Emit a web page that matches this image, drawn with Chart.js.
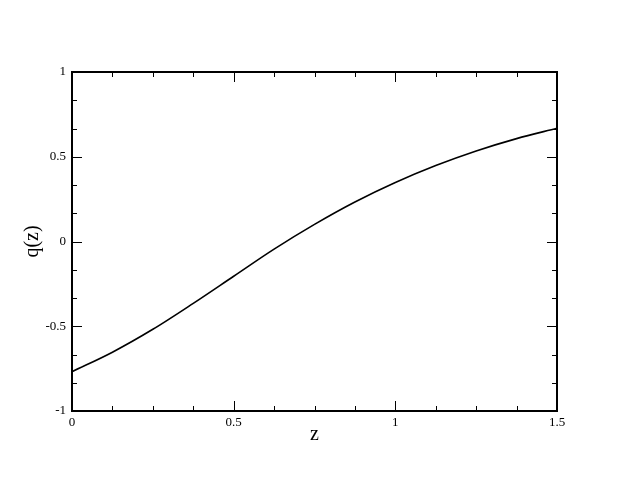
<!DOCTYPE html>
<html>
<head>
<meta charset="utf-8">
<script src="https://cdn.jsdelivr.net/npm/chart.js"></script>
<style>
  html, body { margin: 0; padding: 0; background: #fff; }
  #wrap { width: 627px; height: 484px; }
</style>
</head>
<body>
<div id="wrap"><canvas id="myChart" width="627" height="484"></canvas></div>
<script>
// values
const zValues = [0, 0.125, 0.25, 0.375, 0.5, 0.625, 0.75, 0.875, 1.0, 1.125, 1.25, 1.375, 1.5];
const qValues = [-0.768, -0.653, -0.518, -0.365, -0.205, -0.045, 0.101, 0.233, 0.348, 0.448, 0.534, 0.607, 0.668];

const xTickLabels = [0, 0.5, 1, 1.5];
const yTickLabels = [-1, -0.5, 0, 0.5, 1];
const xMinorStep = 0.125;
const yMinorStep = 1 / 6;

const serif = "'Liberation Serif', 'DejaVu Serif', serif";

// frame + inward ticks on all four sides
const framePlugin = {
    id: 'frame',
    afterDraw(chart) {
        const { ctx, chartArea: a, scales } = chart;
        const x = scales.x, y = scales.y;
        ctx.save();
        ctx.strokeStyle = '#000';
        ctx.lineWidth = 1;

        const tick = (x1, y1, x2, y2) => {
            ctx.beginPath();
            ctx.moveTo(x1, y1);
            ctx.lineTo(x2, y2);
            ctx.stroke();
        };

        for (let v = 0; v <= 1.5 + 1e-9; v += xMinorStep) {
            const px = Math.round(x.getPixelForValue(v)) + 0.5;
            const major = xTickLabels.some(t => Math.abs(t - v) < 1e-6);
            const len = major ? 10 : 5;
            tick(px, a.bottom, px, a.bottom - len);
            tick(px, a.top, px, a.top + len);
        }
        for (let v = -1; v <= 1 + 1e-9; v += yMinorStep) {
            const py = Math.round(y.getPixelForValue(v)) + 0.5;
            const major = yTickLabels.some(t => Math.abs(t - v) < 1e-6);
            const len = major ? 10 : 5;
            tick(a.left, py, a.left + len, py);
            tick(a.right, py, a.right - len, py);
        }

        ctx.lineWidth = 2;
        ctx.strokeRect(a.left, a.top, a.right - a.left, a.bottom - a.top);
        ctx.restore();
    }
};

new Chart(document.getElementById('myChart'), {
    type: 'line',
    data: {
        labels: zValues,
        datasets: [{
            data: zValues.map((z, i) => ({ x: z, y: qValues[i] })),
            borderColor: '#000',
            borderWidth: 1.6,
            pointRadius: 0,
            cubicInterpolationMode: 'monotone',
            fill: false
        }]
    },
    options: {
        responsive: false,
        animation: false,
        layout: { padding: { top: 72, right: 70, left: 0, bottom: 0 } },
        plugins: {
            legend: { display: false },
            tooltip: { enabled: false }
        },
        scales: {
            x: {
                type: 'linear',
                min: 0,
                max: 1.5,
                grid: { display: false, drawTicks: false },
                border: { display: false },
                ticks: {
                    stepSize: 0.5,
                    padding: 4,
                    color: '#000',
                    maxRotation: 0,
                    font: { family: serif, size: 13 },
                    callback: v => String(v)
                },
                title: {
                    display: true,
                    text: 'z',
                    color: '#000',
                    font: { family: serif, size: 20 },
                    padding: { top: 0, bottom: 37 }
                },
                afterFit: s => { s.height = 73; }
            },
            y: {
                type: 'linear',
                min: -1,
                max: 1,
                grid: { display: false, drawTicks: false },
                border: { display: false },
                ticks: {
                    stepSize: 0.5,
                    padding: 6,
                    color: '#000',
                    font: { family: serif, size: 13 },
                    callback: v => String(v)
                },
                title: {
                    display: true,
                    text: 'q(z)',
                    color: '#000',
                    font: { family: serif, size: 20 },
                    padding: 21
                },
                afterFit: s => { s.width = 72; }
            }
        }
    },
    plugins: [framePlugin]
});
</script>
</body>
</html>
